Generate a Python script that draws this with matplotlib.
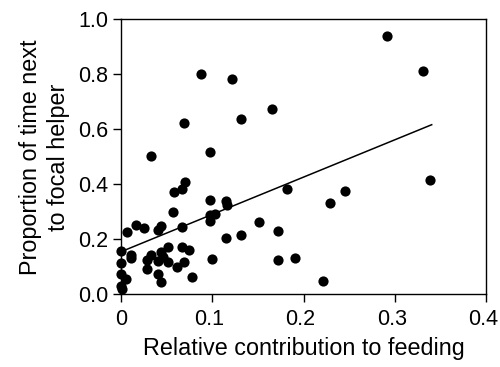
import numpy as np
import matplotlib.pyplot as plt
import matplotlib.transforms as mtransforms

plt.rcParams["font.family"] = ["Liberation Sans", "DejaVu Sans"]

# relative contribution to feeding (x) and proportion of time next to helper (y)
contribution = [
    0.292, 0.331, 0.339, 0.088, 0.122, 0.165, 0.131, 0.069, 0.033, 0.098,
    0.182, 0.246, 0.229, 0.0705, 0.0668, 0.058, 0.057, 0.098, 0.115, 0.116,
    0.097, 0.103, 0.097, 0.151, 0.115, 0.131, 0.172, 0.067, 0.016, 0.025,
    0.007, 0.040, 0.044, 0.000, 0.000, 0.000, 0.000, 0.001, 0.006, 0.011,
    0.011, 0.028, 0.028, 0.033, 0.041, 0.040, 0.044, 0.044, 0.046, 0.052,
    0.052, 0.061, 0.067, 0.075, 0.069, 0.078, 0.100, 0.172, 0.191, 0.221,
]
proportion = [
    0.939, 0.813, 0.416, 0.801, 0.782, 0.674, 0.638, 0.622, 0.502, 0.516,
    0.385, 0.376, 0.331, 0.407, 0.384, 0.372, 0.301, 0.342, 0.339, 0.325,
    0.287, 0.291, 0.267, 0.263, 0.205, 0.215, 0.229, 0.246, 0.251, 0.242,
    0.228, 0.234, 0.250, 0.159, 0.113, 0.074, 0.030, 0.021, 0.055, 0.143,
    0.131, 0.124, 0.093, 0.142, 0.122, 0.073, 0.046, 0.153, 0.136, 0.118,
    0.171, 0.098, 0.172, 0.161, 0.118, 0.062, 0.127, 0.125, 0.131, 0.047,
]

# regression line
line_x = [0.0, 0.3405]
intercept = 0.155
slope = 1.357

x_ticks = [0, 0.1, 0.2, 0.3, 0.4]
x_labels = ["0", "0.1", "0.2", "0.3", "0.4"]
y_ticks = [0, 0.2, 0.4, 0.6, 0.8, 1.0]
y_labels = ["0.0", "0.2", "0.4", "0.6", "0.8", "1.0"]

fig = plt.figure(figsize=(5, 3.67), dpi=100)
ax = fig.add_axes([0.242, 0.198, 0.730, 0.749])

ax.scatter(contribution, proportion, s=54, color="black", linewidths=0,
           zorder=3, clip_on=False)
lx = np.array(line_x)
ax.plot(lx, intercept + slope * lx, color="black", lw=1.1)

ax.set_xlim(0, 0.4)
ax.set_ylim(0, 1.0)
ax.set_xticks(x_ticks)
ax.set_xticklabels(x_labels)
ax.set_yticks(y_ticks)
ax.set_yticklabels(y_labels)
ax.tick_params(direction="out", length=5.5, width=1, labelsize=15.5, pad=3.5)
ax.tick_params(axis="x", pad=5)
for sp in ax.spines.values():
    sp.set_linewidth(1)

# decimal labels sit a little left of their ticks in the original
shift = mtransforms.ScaledTranslation(-3 / 100, 0, fig.dpi_scale_trans)
for lab in ax.get_xticklabels()[1:]:
    lab.set_transform(lab.get_transform() + shift)

ax.set_xlabel("Relative contribution to feeding", fontsize=16.8, labelpad=5)
ax.set_ylabel("Proportion of time next\nto focal helper", fontsize=16.8,
              labelpad=6, linespacing=1.3)

fig.savefig("out.png", dpi=100)
